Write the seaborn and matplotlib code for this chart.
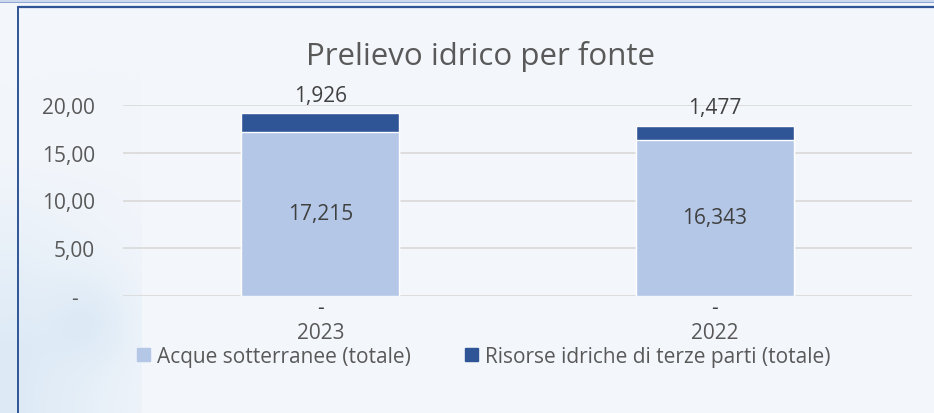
import numpy as np
import pandas as pd
import matplotlib
matplotlib.use("Agg")
import matplotlib.pyplot as plt
from matplotlib.patches import Rectangle
import seaborn as sns

# Data
years = ["2023", "2022"]
acque_sotterranee = [17.215, 16.343]
terze_parti = [1.926, 1.477]
acque_superficiali = [0.0, 0.0]
y_ticks = [0, 5, 10, 15, 20]
y_tick_labels = ["-   ", "5,00", "10,00", "15,00", "20,00"]

LIGHT = "#B4C7E7"
DARK = "#2F5597"
TXT = "#595959"
BG = "#F3F6FB"
FS = 15

sns.set_theme(style="white")
plt.rcParams["font.family"] = ["Open Sans", "DejaVu Sans"]

df = pd.DataFrame({
    "anno": years,
    "sotterranee": acque_sotterranee,
    "terze": terze_parti,
    "superficiali": acque_superficiali,
})
df["totale"] = df["sotterranee"] + df["terze"]

fig = plt.figure(figsize=(9.34, 4.14), dpi=100)
fig.patch.set_facecolor(BG)

# soft backdrop: pale blue wash on the left side
bg_ax = fig.add_axes([0, 0, 1, 1], zorder=-10)
h, w = 414, 934
yy, xx = np.mgrid[0:h, 0:w]
img = np.ones((h, w, 3)) * np.array([243, 246, 251]) / 255
wash = np.clip(1 - (xx - 20) / 160.0, 0, 1) * np.clip((yy - 150) / 200.0, 0, 1)
wash += 0.5 * np.exp(-((xx - 90) ** 2 + (yy - 320) ** 2) / (2 * 30.0 ** 2))
wash = np.clip(wash, 0, 1) * (xx < 142)
tint = np.array([212, 229, 244]) / 255
img = img * (1 - wash[..., None] * 0.7) + tint * wash[..., None] * 0.7
bg_ax.imshow(img, aspect="auto", extent=[0, w, h, 0])
bg_ax.set_xlim(0, w)
bg_ax.set_ylim(h, 0)
bg_ax.axis("off")
# frame lines and top strip
bg_ax.add_patch(Rectangle((0, 0), w, 2.6, color="#CBD8EE", lw=0))
bg_ax.add_patch(Rectangle((0, 2.6), w, 0.9, color="#8FA8D3", lw=0))
bg_ax.plot([18, 934], [8, 8], color=DARK, lw=1.6)
bg_ax.plot([18, 18], [8, 414], color=DARK, lw=1.4)

ax = fig.add_axes([123 / 934, 1 - 297 / 414, 789 / 934, (297 - 106) / 414])
ax.set_facecolor("none")

sns.barplot(data=df, x="anno", y="totale", color=DARK, width=0.4,
            saturation=1, ax=ax, zorder=2)
sns.barplot(data=df, x="anno", y="sotterranee", color=LIGHT, width=0.4,
            saturation=1, ax=ax, zorder=3)

ax.set_xlim(-0.5, 1.5)
ax.set_ylim(0, 20)
ax.set_yticks(y_ticks)
ax.set_yticklabels(y_tick_labels, color=TXT, fontsize=FS)
ax.yaxis.grid(True, color="#D9D9D9", lw=1.2, zorder=0)
ax.set_axisbelow(True)
ax.tick_params(axis="y", length=0, pad=20)
ax.tick_params(axis="x", length=0, pad=19, labelsize=FS, labelcolor=TXT)
ax.set_xlabel("")
ax.set_ylabel("")
for s in ax.spines.values():
    s.set_visible(False)

def fmt(v):
    return f"{v:.3f}".replace(".", ",")

for i, row in df.iterrows():
    ax.text(i, row["sotterranee"] / 2, fmt(row["sotterranee"]), ha="center",
            va="center", fontsize=FS, color="#404040", zorder=5)
    ax.text(i, row["totale"] + 0.8, fmt(row["terze"]), ha="center",
            va="bottom", fontsize=FS, color="#404040", zorder=5, clip_on=False)
    ax.text(i, row["superficiali"] - 0.1, "-", ha="center", va="top",
            fontsize=FS, color="#404040", zorder=5, clip_on=False)

fig.text(480 / 934, 1 - 57 / 414, "Prelievo idrico per fonte", ha="center",
         va="center", fontsize=22.5, color=TXT)

handles = [Rectangle((0, 0), 1, 1, color=LIGHT), Rectangle((0, 0), 1, 1, color=DARK)]
fig.legend(handles, ["Acque sotterranee (totale)", "Risorse idriche di terze parti (totale)"],
           loc="center", bbox_to_anchor=(484 / 934, 1 - 357 / 414), ncol=2,
           frameon=False, fontsize=FS, labelcolor=TXT, handlelength=0.6,
           handleheight=0.6, handletextpad=0.35, columnspacing=2.6)

fig.savefig("out.png", dpi=100, facecolor=fig.get_facecolor())
